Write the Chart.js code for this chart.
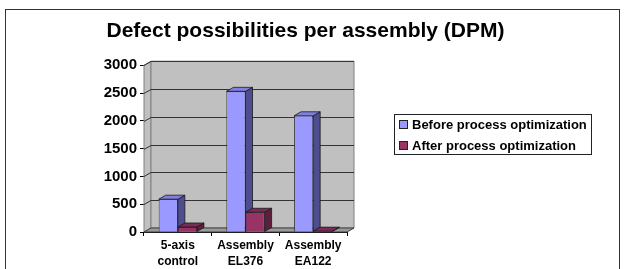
<!DOCTYPE html>
<html>
<head>
<meta charset="utf-8">
<script src="https://cdn.jsdelivr.net/npm/chart.js@4/dist/chart.umd.min.js"></script>
<style>
  html, body { margin: 0; padding: 0; background: #fff; }
  #wrap { width: 624px; height: 269px; }
</style>
</head>
<body>
<div id="wrap"><canvas id="dpmChart" width="624" height="269"></canvas></div>
<script>
// Data
const categories = [['5-axis', 'control'], ['Assembly', 'EL376'], ['Assembly', 'EA122']];
const beforeValues = [590, 2530, 2090];
const afterValues = [90, 355, 15];
const seriesNames = ['Before process optimization', 'After process optimization'];
const yMin = 0, yMax = 3000, yStep = 500;

// 3D look (Excel-style): depth offset of the walls and bars
const DX = 7, DY = -4;
const FONT = '"Liberation Sans", Arial, sans-serif';

const faceColors = [
    { side: '#4d4d8f', top: '#7f7fe0' },
    { side: '#5c1f3e', top: '#7d2a55' }
];

function poly(ctx, pts, fill, stroke) {
    ctx.beginPath();
    ctx.moveTo(pts[0][0], pts[0][1]);
    for (let i = 1; i < pts.length; i++) ctx.lineTo(pts[i][0], pts[i][1]);
    ctx.closePath();
    if (fill) { ctx.fillStyle = fill; ctx.fill(); }
    if (stroke) { ctx.strokeStyle = stroke; ctx.stroke(); }
}

function drawBarFaces(chart, index) {
    const ctx = chart.ctx;
    const meta = chart.getDatasetMeta(index);
    const c = faceColors[index];
    ctx.save();
    ctx.lineWidth = 0.8;
    meta.data.forEach(bar => {
        const { x, y, base, width } = bar.getProps(['x', 'y', 'base', 'width'], true);
        const l = x - width / 2, r = x + width / 2;
        poly(ctx, [[r, y], [r + DX, y + DY], [r + DX, base + DY], [r, base]], c.side, '#1a1a1a');
        poly(ctx, [[l, y], [r, y], [r + DX, y + DY], [l + DX, y + DY]], c.top, '#1a1a1a');
    });
    ctx.restore();
}

const frame3d = {
    id: 'frame3d',
    beforeDraw(chart) {
        const ctx = chart.ctx;
        ctx.save();
        ctx.fillStyle = '#fff';
        ctx.fillRect(0, 0, chart.width, chart.height);
        ctx.strokeStyle = '#333';
        ctx.lineWidth = 1;
        ctx.strokeRect(5.5, 9.5, 614, 300);
        ctx.restore();
    },
    beforeDatasetsDraw(chart) {
        const ctx = chart.ctx;
        const { left, right, top, bottom } = chart.chartArea;
        const y = chart.scales.y;
        ctx.save();
        ctx.lineWidth = 1;
        // side wall
        poly(ctx, [[left, top], [left + DX, top + DY], [left + DX, bottom + DY], [left, bottom]], '#c0c0c0', '#808080');
        // back wall
        poly(ctx, [[left + DX, top + DY], [right + DX, top + DY], [right + DX, bottom + DY], [left + DX, bottom + DY]], '#c0c0c0', '#808080');
        // gridlines on the walls
        ctx.strokeStyle = '#333';
        y.ticks.forEach(t => {
            const py = Math.round(y.getPixelForValue(t.value)) + 0.5;
            ctx.beginPath();
            ctx.moveTo(left, py);
            ctx.lineTo(left + DX, py + DY);
            ctx.lineTo(right + DX, py + DY);
            ctx.stroke();
        });
        // floor
        poly(ctx, [[left, bottom], [right, bottom], [right + DX, bottom + DY], [left + DX, bottom + DY]], '#9a9a9a', '#404040');
        ctx.restore();
        // faces of the first series go behind the second series' fronts
        drawBarFaces(chart, 0);
    },
    afterDatasetsDraw(chart) {
        drawBarFaces(chart, 1);
    },
    afterDraw(chart) {
        // legend box
        const ctx = chart.ctx;
        ctx.save();
        ctx.fillStyle = '#fff';
        ctx.strokeStyle = '#222';
        ctx.lineWidth = 1;
        ctx.fillRect(394.5, 114.5, 197, 40);
        ctx.strokeRect(394.5, 114.5, 197, 40);
        ctx.font = 'bold 13px ' + FONT;
        ctx.textBaseline = 'middle';
        chart.data.datasets.forEach((ds, i) => {
            const cy = 125 + i * 21;
            ctx.fillStyle = ds.backgroundColor;
            ctx.fillRect(399.5, cy - 4.5, 8, 8);
            ctx.strokeStyle = '#222';
            ctx.strokeRect(399.5, cy - 4.5, 8, 8);
            ctx.fillStyle = '#000';
            ctx.fillText(ds.label, 412, cy + 0.5);
        });
        ctx.restore();
    }
};

new Chart(document.getElementById('dpmChart'), {
    type: 'bar',
    data: {
        labels: categories,
        datasets: [{
            label: seriesNames[0],
            data: beforeValues,
            backgroundColor: '#9999ff',
            borderColor: '#1a1a1a',
            borderWidth: 0.8
        }, {
            label: seriesNames[1],
            data: afterValues,
            backgroundColor: '#993366',
            borderColor: '#1a1a1a',
            borderWidth: 0.8
        }]
    },
    options: {
        responsive: false,
        animation: false,
        devicePixelRatio: 1,
        layout: { padding: { left: 0, right: 13, top: 0, bottom: 0 } },
        datasets: {
            bar: { categoryPercentage: 0.565, barPercentage: 1 }
        },
        plugins: {
            legend: { display: false },
            tooltip: { enabled: false },
            title: {
                display: true,
                text: 'Defect possibilities per assembly (DPM)',
                color: '#000',
                font: { family: FONT, size: 21, weight: 'bold', lineHeight: 1.2 },
                padding: { top: 19, bottom: 21 }
            }
        },
        scales: {
            x: {
                grid: { drawOnChartArea: false, drawTicks: true, tickLength: 4, color: '#000' },
                border: { display: true, color: '#000' },
                ticks: {
                    color: '#000',
                    padding: 2,
                    maxRotation: 0,
                    font: { family: FONT, size: 12, weight: 'bold', lineHeight: 1.33 }
                },
                afterFit(scale) { scale.height = 37; }
            },
            y: {
                min: yMin,
                max: yMax,
                grid: { drawOnChartArea: false, drawTicks: true, tickLength: 4, color: '#000' },
                border: { display: true, color: '#000' },
                ticks: {
                    stepSize: yStep,
                    color: '#000',
                    padding: 3,
                    font: { family: FONT, size: 15, weight: 'bold' },
                    callback: v => String(v)
                },
                afterFit(scale) { scale.width = 144; }
            },
            spacer: {
                type: 'linear',
                position: 'right',
                grid: { display: false },
                border: { display: false },
                ticks: { display: false },
                afterFit(scale) { scale.width = 264; }
            }
        }
    },
    plugins: [frame3d]
});
</script>
</body>
</html>
